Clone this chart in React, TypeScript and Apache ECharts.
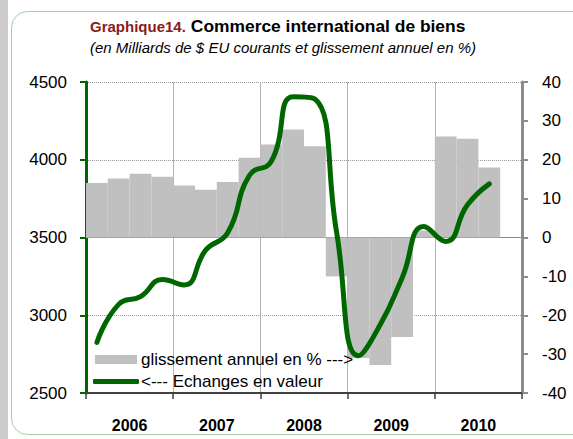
import React, { useEffect, useRef } from "react";
import * as echarts from "echarts";

const years = ["2006", "2007", "2008", "2009", "2010"];
const quarters = [
  "T1 2006", "T2 2006", "T3 2006", "T4 2006",
  "T1 2007", "T2 2007", "T3 2007", "T4 2007",
  "T1 2008", "T2 2008", "T3 2008", "T4 2008",
  "T1 2009", "T2 2009", "T3 2009", "T4 2009",
  "T1 2010", "T2 2010", "T3 2010", "T4 2010",
];
// glissement annuel en % (axe de droite)
const glissement = [
  14, 15.2, 16.4, 15.6,
  13.4, 12.3, 14.3, 20.5,
  23.9, 27.8, 23.5, -10,
  -31, -32.8, -25.6, 1.8,
  26, 25.4, 18, null,
];
// Echanges en valeur, milliards de $ EU (axe de gauche)
const echanges = [
  2825, 3070, 3120, 3230,
  3195, 3420, 3530, 3900,
  3990, 4405, 4390, 3530,
  2740, 2940, 3240, 3570,
  3475, 3710, 3845, null,
];
const nameGliss = "glissement annuel en % --->";
const nameEch = "<--- Echanges en valeur";

const FONT = "'Liberation Sans', Arial, sans-serif";

export default function App() {
  const ref = useRef<HTMLDivElement>(null);
  useEffect(() => {
    if (!ref.current) return;
    const chart = echarts.init(ref.current, null, { renderer: "svg" });
    chart.setOption({
      animation: false,
      backgroundColor: "#ffffff",
      textStyle: { fontFamily: FONT },
      graphic: [
        { type: "rect", z: -10, silent: true, shape: { x: 0, y: 0, width: 8, height: 439 }, style: { fill: "#cccccc" } },
        { type: "rect", z: -10, silent: true, shape: { x: 11.5, y: 11.5, width: 600, height: 423, r: 16 }, style: { fill: "none", stroke: "#a3cfa3", lineWidth: 1 } },
      ],
      title: [
        {
          left: 90,
          top: 17,
          padding: 0,
          text: "{a|Graphique14.} {b|Commerce international de biens}",
          textStyle: {
            rich: {
              a: { fontFamily: FONT, fontSize: 15, fontWeight: "bold", color: "#8b1a1a" },
              b: { fontFamily: FONT, fontSize: 17.4, fontWeight: "bold", color: "#000000" },
            },
          },
        },
        {
          left: 90,
          top: 40,
          padding: 0,
          text: "(en Milliards de $ EU courants et glissement annuel en %)",
          textStyle: { fontFamily: FONT, fontSize: 15, fontStyle: "italic", fontWeight: "normal", color: "#000000" },
        },
      ],
      legend: [
        {
          left: 95,
          top: 351,
          padding: 0,
          selectedMode: false,
          itemWidth: 42,
          itemHeight: 9,
          data: [{ name: nameGliss, icon: "rect" }],
          textStyle: { fontFamily: FONT, fontSize: 17, color: "#000000", padding: [0, 0, 0, -1] },
        },
        {
          left: 93,
          top: 373,
          padding: 0,
          selectedMode: false,
          itemWidth: 46,
          itemHeight: 5,
          data: [{ name: nameEch, icon: "roundRect" }],
          itemStyle: { color: "#006600" },
          textStyle: { fontFamily: FONT, fontSize: 17, color: "#000000", padding: [0, 0, 0, -3] },
        },
      ],
      grid: { left: 86, right: 51, top: 82, bottom: 46, containLabel: false, outerBoundsMode: "none" },
      xAxis: [
        {
          type: "category",
          data: quarters,
          position: "top",
          boundaryGap: true,
          axisLine: { show: true, lineStyle: { color: "#8a8a8a", width: 1 } },
          axisTick: { show: false },
          axisLabel: { show: false },
          splitLine: { show: false },
        },
        {
          type: "category",
          data: years,
          position: "bottom",
          boundaryGap: true,
          axisLine: { show: true, lineStyle: { color: "#404040", width: 2 } },
          axisTick: { show: true, length: 6, lineStyle: { color: "#404040", width: 1.5 } },
          axisLabel: { fontFamily: FONT, fontSize: 16, fontWeight: "bold", color: "#000000", margin: 24 },
          splitLine: { show: true, lineStyle: { color: "#b4b4b4", width: 1, type: "solid" } },
        },
      ],
      yAxis: [
        {
          type: "value",
          position: "left",
          min: 2500,
          max: 4500,
          interval: 500,
          axisLine: { show: true, lineStyle: { color: "#006600", width: 3 } },
          axisTick: { show: true, length: 6, lineStyle: { color: "#006600", width: 2 } },
          axisLabel: { fontFamily: FONT, fontSize: 17, color: "#000000", margin: 19, formatter: (v: number) => String(v) },
          splitLine: { show: true, lineStyle: { color: "#999999", width: 1, type: "dotted" } },
        },
        {
          type: "value",
          position: "right",
          min: -40,
          max: 40,
          interval: 10,
          axisLine: { show: true, lineStyle: { color: "#8c8c8c", width: 3 } },
          axisTick: { show: true, length: 6, lineStyle: { color: "#8c8c8c", width: 2 } },
          axisLabel: { fontFamily: FONT, fontSize: 17, color: "#000000", margin: 20, formatter: (v: number) => String(v) },
          splitLine: { show: false },
        },
      ],
      series: [
        {
          name: nameGliss,
          type: "bar",
          xAxisIndex: 0,
          yAxisIndex: 1,
          data: glissement,
          barCategoryGap: "0%",
          barGap: "0%",
          itemStyle: { color: "#c0c0c0" },
          z: 2,
        },
        {
          name: nameEch,
          type: "line",
          xAxisIndex: 0,
          yAxisIndex: 0,
          data: echanges,
          smooth: 0.5,
          symbol: "none",
          connectNulls: false,
          lineStyle: { color: "#006600", width: 5, cap: "round", join: "round" },
          itemStyle: { color: "#006600" },
          z: 3,
        },
      ],
    });
    return () => chart.dispose();
  }, []);
  return <div ref={ref} style={{ position: "absolute", left: 0, top: 0, width: 573, height: 439 }} />;
}
